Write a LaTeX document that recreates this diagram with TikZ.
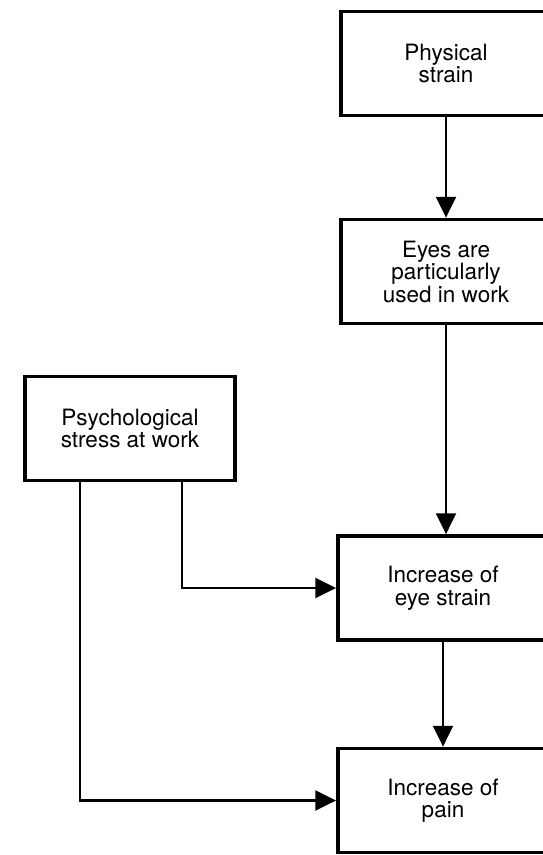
\documentclass[tikz,border=0pt]{standalone}
\usepackage{fontspec}
\setmainfont{TeX Gyre Heros}
\usetikzlibrary{arrows.meta}

\begin{document}
\begin{tikzpicture}[x=0.025cm, y=-0.025cm,
		box/.style={draw, line width=2.7pt, minimum width=5.25cm, minimum height=2.6cm,
			align=center, font=\fontsize{16}{16}\selectfont},
		link/.style={line width=1.6pt, -{Triangle[length=0.52cm, width=0.5cm]}}]
		% 画布范围 (右侧方框被裁切)
		\path[use as bounding box, clip] (0,0) rectangle (543,855);
		
		% 右列方框
		\node[box] (physical) at (446, 63.5) {Physical\\strain};
		\node[box] (eyes) at (446, 271.5) {Eyes are\\particularly\\used in work};
		\node[box] (eyestrain) at (443, 588) {Increase of\\eye strain};
		\node[box] (pain) at (443, 800.5) {Increase of\\pain};
		
		% 左侧方框
		\node[box] (stress) at (130, 428.5) {Psychological\\stress at work};
		
		% 竖直箭头
		\draw[link] (physical) -- (eyes);
		\draw[link] (eyes.south) -- (eyes.south |- eyestrain.north);
		\draw[link] (eyestrain) -- (pain);
		
		% 折线箭头 (从左侧方框出发)
		\draw[link] ([xshift=1.3cm]stress.south) |- (eyestrain.west);
		\draw[link] ([xshift=-1.25cm]stress.south) |- (pain.west);
	
	\end{tikzpicture}
\end{document}
